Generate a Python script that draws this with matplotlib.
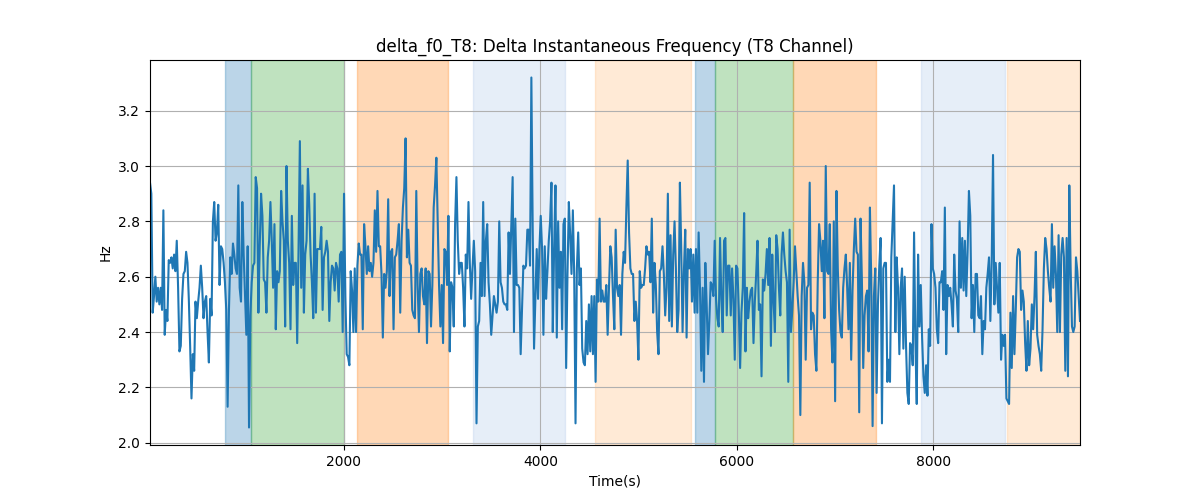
import numpy as np
import matplotlib
matplotlib.use("Agg")
import matplotlib.pyplot as plt

t_start, t_end = 27, 9493

seg1 = [2.94, 2.90, 2.47, 2.53, 2.60, 2.51, 2.56, 2.50, 2.56, 2.48, 2.84, 2.39, 2.48, 2.44, 2.66, 2.65, 2.67, 2.63, 2.68, 2.62,
        2.73, 2.56, 2.33, 2.35, 2.52, 2.61, 2.62, 2.69, 2.65, 2.52, 2.35, 2.16, 2.32, 2.26, 2.51, 2.45, 2.51, 2.56, 2.64, 2.56,
        2.45, 2.51, 2.53, 2.40, 2.29, 2.52, 2.46, 2.80, 2.87, 2.73, 2.76, 2.86, 2.57, 2.71, 2.70, 2.65, 2.58, 2.48, 2.13, 2.48,
        2.67, 2.61, 2.72, 2.68, 2.63, 2.61, 2.93, 2.56, 2.51, 2.87, 2.68, 2.53, 2.39, 2.71, 2.055, 2.46, 2.58, 2.64, 2.65, 2.96,
        2.92, 2.47, 2.71, 2.90, 2.82, 2.59, 2.58, 2.47, 2.67]
seg2 = [2.73, 2.87, 2.73, 2.56, 2.79, 2.41, 2.62, 2.58, 2.62, 2.91, 2.80, 2.73, 2.42, 3.00, 2.73, 2.65, 2.41, 2.82, 2.57, 2.65,
        2.65, 2.36, 2.70, 3.09, 2.56, 2.93, 2.47, 2.68, 2.73, 2.99, 2.86, 2.68, 2.58, 2.45, 2.90, 2.47, 2.70, 2.70, 2.70, 2.78,
        2.48, 2.67, 2.69, 2.73, 2.69, 2.44, 2.58, 2.64, 2.63, 2.55, 2.65, 2.63, 2.51, 2.68, 2.69, 2.40, 2.90, 2.53, 2.32, 2.31,
        2.28, 2.62, 2.55, 2.40, 2.63, 2.40, 2.64, 2.72, 2.68, 2.68, 2.41, 2.79, 2.71, 2.61, 2.71, 2.62, 2.65, 2.60, 2.65, 2.84,
        2.69, 2.91, 2.71, 2.71, 2.61, 2.38, 2.61, 2.56]
seg3 = [2.62, 2.88, 2.53, 2.69, 2.70, 2.41, 2.67, 2.68, 2.73, 2.79, 2.47, 2.73, 2.85, 2.92, 3.10, 2.67, 2.77, 2.65, 2.64, 2.48,
        2.46, 2.45, 2.91, 2.57, 2.40, 2.61, 2.63, 2.53, 2.50, 2.63, 2.36, 2.62, 2.61, 2.42, 2.57, 2.85, 2.93, 3.03, 2.80, 2.57,
        2.42, 2.57, 2.36, 2.70, 2.69, 2.57, 2.82, 2.33, 2.58, 2.56, 2.42, 2.79, 2.96, 2.73, 2.61, 2.65, 2.65, 2.56, 2.42, 2.68,
        2.63, 2.87, 2.65, 2.52, 2.63, 2.73, 2.62, 2.07, 2.42, 2.44, 2.65, 2.53, 2.87, 2.53, 2.73, 2.79, 2.58, 2.50, 2.39, 2.46,
        2.53, 2.50, 2.47, 2.51, 2.80, 2.58, 2.56, 2.51]
seg4 = [2.50, 2.50, 2.48, 2.76, 2.61, 2.79, 2.96, 2.40, 2.81, 2.57, 2.57, 2.56, 2.32, 2.48, 2.64, 2.63, 2.64, 2.77, 2.77, 2.64,
        3.32, 2.77, 2.34, 2.52, 2.70, 2.52, 2.70, 2.82, 2.70, 2.39, 2.71, 2.52, 2.62, 2.73, 2.80, 2.94, 2.40, 2.70, 2.93, 2.38,
        2.80, 2.56, 2.69, 2.41, 2.79, 2.81, 2.27, 2.61, 2.87, 2.75, 2.61, 2.84, 2.61, 2.07, 2.63, 2.76, 2.57, 2.63, 2.34, 2.29,
        2.28, 2.44, 2.32, 2.50, 2.33, 2.53, 2.32, 2.53, 2.22, 2.59, 2.51, 2.81, 2.51, 2.55, 2.51, 2.51, 2.57, 2.39, 2.56, 2.71,
        2.67, 2.53, 2.41, 2.77, 2.56, 2.53, 2.57]
seg5 = [2.39, 2.61, 2.69, 2.65, 2.85, 3.02, 2.76, 2.63, 2.61, 2.61, 2.44, 2.51, 2.44, 2.30, 2.62, 2.56, 2.57, 2.57, 2.63, 2.71,
        2.68, 2.69, 2.58, 2.81, 2.47, 2.65, 2.57, 2.40, 2.32, 2.62, 2.63, 2.71, 2.61, 2.46, 2.56, 2.90, 2.44, 2.75, 2.42, 2.68,
        2.80, 2.63, 2.40, 2.48, 2.94, 2.70, 2.40, 2.62, 2.77, 2.38, 2.70, 2.63, 2.70, 2.51, 2.68, 2.47, 2.70, 2.47, 2.76, 2.56,
        2.26, 2.56, 2.22, 2.65, 2.50, 2.32, 2.44, 2.58, 2.57, 2.53, 2.73, 2.52, 2.45, 2.42, 2.74, 2.52, 2.40, 2.73, 2.74, 2.46,
        2.64, 2.64, 2.46, 2.63, 2.52, 2.30, 2.64, 2.63, 2.48]
seg6 = [2.27, 2.47, 2.56, 2.83, 2.33, 2.56, 2.45, 2.51, 2.55, 2.56, 2.36, 2.51, 2.61, 2.73, 2.48, 2.50, 2.24, 2.59, 2.55, 2.61,
        2.70, 2.57, 2.74, 2.35, 2.68, 2.51, 2.40, 2.75, 2.70, 2.56, 2.46, 2.68, 2.76, 2.68, 2.62, 2.58, 2.22, 2.77, 2.40, 2.48,
        2.58, 2.71, 2.62, 2.53, 2.46, 2.10, 2.53, 2.65, 2.58, 2.30, 2.56, 2.57, 2.94, 2.41, 2.47, 2.46, 2.32, 2.26, 2.58, 2.79,
        2.73, 2.62, 2.73, 2.45, 3.00, 2.62, 2.61, 2.79, 2.41, 2.29, 2.80, 2.15, 2.91, 2.63, 2.48, 2.40, 2.38, 2.56, 2.63, 2.68,
        2.56, 2.41, 2.65, 2.30, 2.55, 2.70, 2.81]
seg7 = [2.69, 2.68, 2.11, 2.81, 2.59, 2.27, 2.46, 2.53, 2.55, 2.33, 2.85, 2.59, 2.06, 2.53, 2.63, 2.18, 2.50, 2.64, 2.74, 2.07,
        2.63, 2.65, 2.65, 2.22, 2.30, 2.22, 2.67, 2.80, 2.93, 2.40, 2.67, 2.56, 2.32, 2.56, 2.63, 2.34, 2.60, 2.35, 2.18, 2.14,
        2.36, 2.35, 2.28, 2.76, 2.36, 2.14, 2.68, 2.42, 2.57, 2.38, 2.24, 2.18, 2.28, 2.17, 2.41, 2.35, 2.79, 2.63, 2.61, 2.56,
        2.41, 2.36, 2.58, 2.58, 2.62, 2.48, 2.85, 2.32, 2.57, 2.53, 2.56, 2.50, 2.42, 2.68, 2.55, 2.52, 2.40, 2.80, 2.56, 2.74,
        2.55, 2.73, 2.53, 2.69]
seg8 = [2.91, 2.82, 2.45, 2.57, 2.40, 2.61, 2.61, 2.46, 2.45, 2.53, 2.32, 2.44, 2.41, 2.56, 2.61, 2.67, 2.44, 2.65, 3.04, 2.50,
        2.65, 2.56, 2.47, 2.65, 2.30, 2.39, 2.35, 2.39, 2.16, 2.15, 2.14, 2.47, 2.27, 2.53, 2.32, 2.48, 2.67, 2.70, 2.69, 2.48,
        2.55, 2.51, 2.36, 2.26, 2.44, 2.28, 2.34, 2.50, 2.41, 2.53, 2.69, 2.39, 2.35, 2.32, 2.26, 2.41, 2.63, 2.74, 2.70, 2.62,
        2.56, 2.51, 2.79, 2.56, 2.71, 2.61, 2.40, 2.75, 2.40, 2.68, 2.74, 2.67, 2.26, 2.74, 2.24, 2.93, 2.63, 2.42, 2.40, 2.42,
        2.67, 2.62, 2.53, 2.44]

delta_f0 = np.array(seg1 + seg2 + seg3 + seg4 + seg5 + seg6 + seg7 + seg8)
time_s = np.linspace(t_start, t_end, len(delta_f0))

span_start = [789, 1054, 2133, 3316, 4561, 5570, 5780, 6570, 7875, 8745]
span_end = [1054, 2003, 3058, 4252, 5531, 5780, 6570, 7420, 8730, 9493]
span_color = ["tab:blue", "tab:green", "tab:orange", "#aec7e8", "#ffbb78",
              "tab:blue", "tab:green", "tab:orange", "#aec7e8", "#ffbb78"]
span_alpha = [0.3] * len(span_start)

fig, ax = plt.subplots(figsize=(12, 5), dpi=100)
for s, e, c, a in zip(span_start, span_end, span_color, span_alpha):
    ax.axvspan(s, e, color=c, alpha=a)
ax.plot(time_s, delta_f0, color="tab:blue", linewidth=1.5)
ax.set_xlim(time_s.min(), time_s.max())
ax.grid(True)
ax.set_title("delta_f0_T8: Delta Instantaneous Frequency (T8 Channel)")
ax.set_xlabel("Time(s)")
ax.set_ylabel("Hz")
fig.savefig("out.png", dpi=100)
